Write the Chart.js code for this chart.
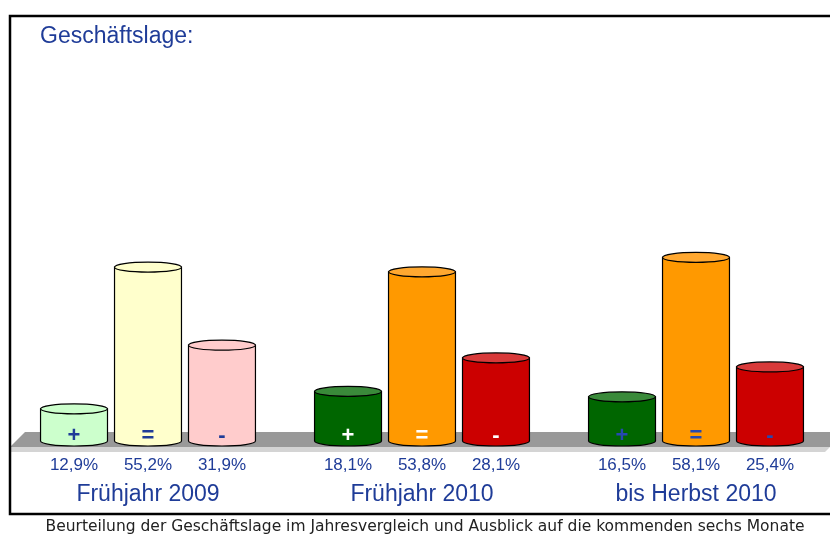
<!DOCTYPE html>
<html lang="de">
<head>
    <meta charset="UTF-8" />
    <title>Geschäftslage</title>
    <script src="https://cdn.jsdelivr.net/npm/chart.js"></script>
    <style>
        html, body { margin: 0; padding: 0; background: #fff; overflow: hidden; }
        canvas { display: block; }
    </style>
</head>
<body>
    <canvas id="lageChart" width="836" height="535"></canvas>
    <script>
    // data
    const categories = ['Frühjahr 2009', 'Frühjahr 2010', 'bis Herbst 2010'];
    const signs = ['+', '=', '-'];
    const plusValues = [12.9, 18.1, 16.5];
    const equalValues = [55.2, 53.8, 58.1];
    const minusValues = [31.9, 28.1, 25.4];

    const title = 'Geschäftslage:';
    const caption = 'Beurteilung der Geschäftslage im Jahresvergleich und Ausblick auf die kommenden sechs Monate';

    // colours per group (2009 pale, 2010 saturated)
    const bodyColors = [
        ['#ccffcc', '#006600', '#006600'],
        ['#ffffcc', '#ff9900', '#ff9900'],
        ['#ffcccc', '#cc0000', '#cc0000']
    ];
    const topColors = [
        ['#ccffcc', '#3a8a3a', '#3a8a3a'],
        ['#ffffcc', '#ffa830', '#ffa830'],
        ['#ffcccc', '#d83a3a', '#d83a3a']
    ];
    const signColors = ['#1f3c98', '#ffffff', '#2648b0'];
    const blue = '#1f3c98';

    const fmt = v => v.toFixed(1).replace('.', ',') + '%';

    const cylinderPlugin = {
        id: 'cylinders',
        beforeDraw(chart) {
            const ctx = chart.ctx;
            const b = chart.chartArea.bottom;
            ctx.save();
            ctx.fillStyle = '#fff';
            ctx.fillRect(0, 0, chart.width, chart.height);
            // floor
            ctx.fillStyle = '#999999';
            ctx.beginPath();
            ctx.moveTo(25, b - 9);
            ctx.lineTo(chart.width, b - 9);
            ctx.lineTo(chart.width, b + 6);
            ctx.lineTo(10, b + 6);
            ctx.closePath();
            ctx.fill();
            ctx.fillStyle = '#d4d4d4';
            ctx.beginPath();
            ctx.moveTo(10, b + 6);
            ctx.lineTo(830, b + 6);
            ctx.lineTo(825, b + 11);
            ctx.lineTo(10, b + 11);
            ctx.closePath();
            ctx.fill();
            // frame
            ctx.strokeStyle = '#000';
            ctx.lineWidth = 2.5;
            ctx.strokeRect(10, 16, 900, 498);
            // title
            ctx.fillStyle = blue;
            ctx.font = '23px "Liberation Sans", Arial, sans-serif';
            ctx.textBaseline = 'middle';
            ctx.textAlign = 'left';
            ctx.fillText(title, 40, 37);
            ctx.restore();
        },
        beforeDatasetsDraw() {
            return false;
        },
        afterDraw(chart) {
            const ctx = chart.ctx;
            const bottom = chart.chartArea.bottom;
            ctx.save();
            chart.data.datasets.forEach((ds, di) => {
                const meta = chart.getDatasetMeta(di);
                meta.data.forEach((bar, i) => {
                    const x = bar.x, y = bar.y, base = Math.min(bar.base, bottom);
                    const rx = bar.width / 2, ry = 5;
                    ctx.lineWidth = 1.2;
                    ctx.strokeStyle = '#000';
                    ctx.fillStyle = bodyColors[di][i];
                    ctx.beginPath();
                    ctx.moveTo(x - rx, y);
                    ctx.lineTo(x - rx, base);
                    ctx.ellipse(x, base, rx, ry, 0, Math.PI, 0, true);
                    ctx.lineTo(x + rx, y);
                    ctx.closePath();
                    ctx.fill();
                    ctx.stroke();
                    ctx.fillStyle = topColors[di][i];
                    ctx.beginPath();
                    ctx.ellipse(x, y, rx, ry, 0, 0, Math.PI * 2);
                    ctx.fill();
                    ctx.stroke();
                    // sign inside the bar
                    ctx.fillStyle = signColors[i];
                    ctx.font = 'bold 22px "Liberation Sans", Arial, sans-serif';
                    ctx.textAlign = 'center';
                    ctx.textBaseline = 'middle';
                    ctx.fillText(signs[di], x, base - 5);
                    // value under the floor
                    ctx.fillStyle = blue;
                    ctx.font = '17px "Liberation Sans", Arial, sans-serif';
                    ctx.fillText(fmt(ds.data[i]), x, base + 24);
                });
            });
            // group labels
            const xs = chart.scales.x;
            ctx.fillStyle = blue;
            ctx.font = '23px "Liberation Sans", Arial, sans-serif';
            ctx.textAlign = 'center';
            ctx.textBaseline = 'middle';
            categories.forEach((c, i) => {
                ctx.fillText(c, xs.getPixelForValue(i), bottom + 54);
            });
            // caption
            ctx.fillStyle = '#222';
            ctx.font = '15.5px "DejaVu Sans", sans-serif';
            ctx.fillText(caption, 425, 527, 762);
            ctx.restore();
        }
    };

    new Chart(document.getElementById('lageChart'), {
        type: 'bar',
        data: {
            labels: categories,
            datasets: [
                { label: signs[0], data: plusValues },
                { label: signs[1], data: equalValues },
                { label: signs[2], data: minusValues }
            ]
        },
        options: {
            responsive: false,
            animation: false,
            events: [],
            layout: { padding: { left: 11, right: 3, top: 240, bottom: 94 } },
            datasets: { bar: { categoryPercentage: 0.81, barPercentage: 0.905 } },
            plugins: { legend: { display: false }, tooltip: { enabled: false } },
            scales: {
                x: { display: false },
                y: { display: false, min: 3.3, max: 63.3 }
            }
        },
        plugins: [cylinderPlugin]
    });
    </script>
</body>
</html>
